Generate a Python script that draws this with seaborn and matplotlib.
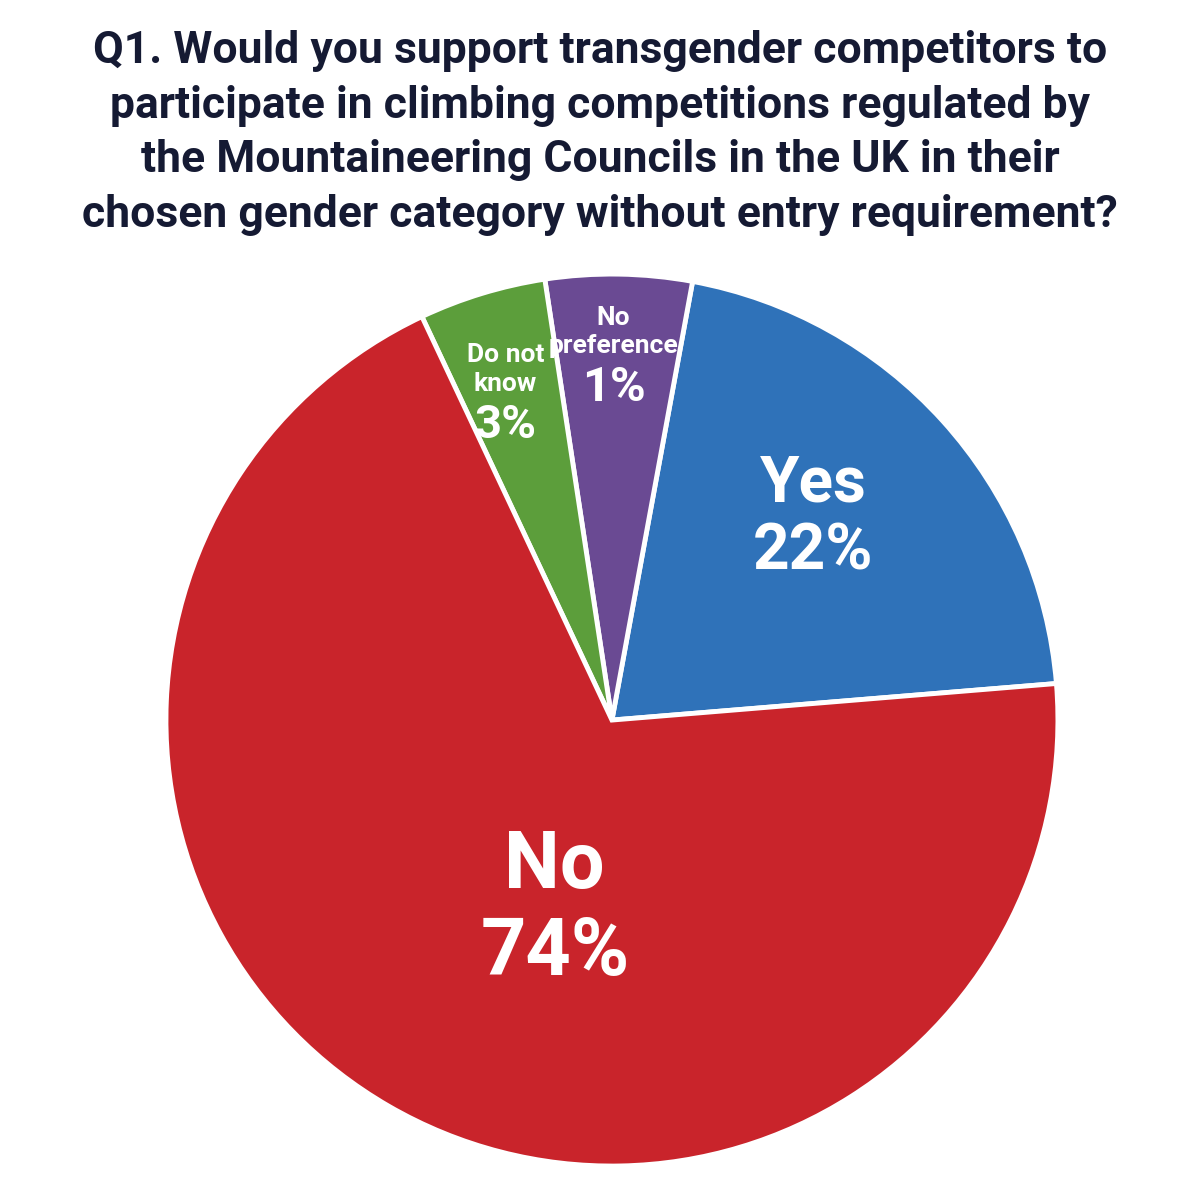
import matplotlib
matplotlib.use('Agg')
import matplotlib.pyplot as plt
import seaborn as sns
import numpy as np

# slice sizes as drawn in the picture (printed labels below)
categorias = ['Yes', 'No preference', 'Do not know', 'No']
tamanhos = [20.8, 5.3, 4.6, 69.3]
rotulos = ['Yes\n22%', 'No\npreference\n1%', 'Do not\nknow\n3%', 'No\n74%']
cores = ['#2F72B9', '#6A4A93', '#5C9E3B', '#C9242B']

titulo = ('Q1. Would you support transgender competitors to\n'
          'participate in climbing competitions regulated by\n'
          'the Mountaineering Councils in the UK in their\n'
          'chosen gender category without entry requirement?')

sns.set_theme(style='white')
plt.rcParams['font.family'] = ['Roboto', 'DejaVu Sans']

fig = plt.figure(figsize=(12, 12), dpi=100)
ax = fig.add_axes([0.1383, 0.0283, 0.7433, 0.7433])

wedges, _ = ax.pie(tamanhos, colors=cores, startangle=4.7, counterclock=True,
                   wedgeprops=dict(edgecolor='white', linewidth=3.5))
ax.set_xlim(-1, 1)
ax.set_ylim(-1, 1)
ax.set_aspect('equal')
ax.axis('off')

# (distance, angle shift, fontsize name, fontsize value, gap)
ajustes = {
    'Yes': (0.64, 3.0, 46, 46, 0.008),
    'No preference': (0.796, 0.6, 19, 35, 0.0),
    'Do not know': (0.75, 1.6, 19, 34, 0.0),
    'No': (0.445, 13.3, 57, 57, 0.014),
}

for w, cat, rot in zip(wedges, categorias, rotulos):
    d, da, fs1, fs2, gap = ajustes[cat]
    ang = np.deg2rad((w.theta1 + w.theta2) / 2 + da)
    x, y = d * np.cos(ang), d * np.sin(ang)
    partes = rot.split('\n')
    nome = '\n'.join(partes[:-1])
    valor = partes[-1]
    # name above, value below
    ax.text(x, y + gap + (0.015 if fs1 < 30 else 0.0), nome, ha='center',
            va='bottom', color='white', fontsize=fs1, fontweight='bold',
            linespacing=1.25)
    ax.text(x, y - gap, valor, ha='center', va='top', color='white',
            fontsize=fs2, fontweight='bold')

fig.text(0.5, 0.975, titulo, ha='center', va='top', fontsize=32,
         fontweight='bold', color='#151a33', linespacing=1.38)

plt.savefig('out.png', dpi=100, facecolor='white')
